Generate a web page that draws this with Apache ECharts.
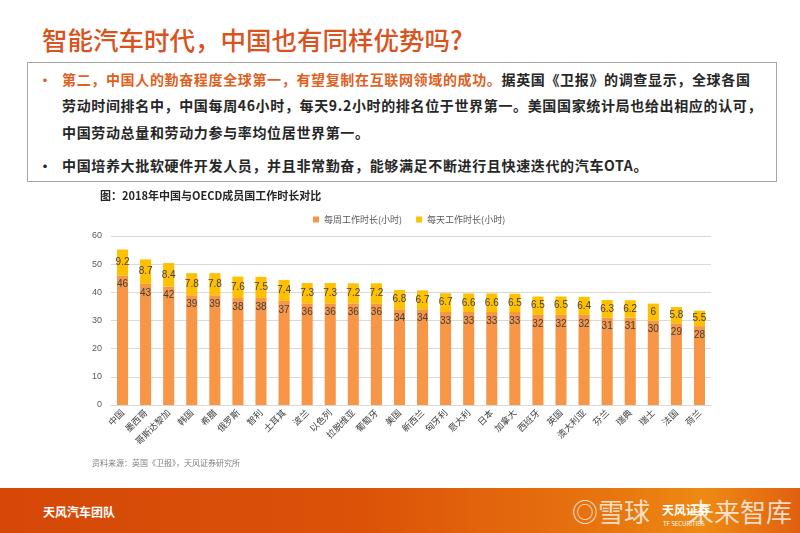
<!DOCTYPE html>
<html><head><meta charset="utf-8">
<script src="https://cdn.jsdelivr.net/npm/echarts@6/dist/echarts.min.js"></script>
<style>
html,body{margin:0;padding:0;width:800px;height:533px;overflow:hidden;background:#fff;font-family:"Noto Sans CJK SC","Noto Sans",sans-serif;}
#title{position:absolute;left:42px;top:20px;font-size:25.5px;color:#D9531E;font-weight:500;white-space:nowrap;}
#box{position:absolute;left:27px;top:62px;width:750px;height:120px;border:1px solid #A6A6A6;box-sizing:border-box;}
.ln{position:absolute;font-size:14px;font-weight:bold;color:#262626;white-space:nowrap;letter-spacing:0.65px;}
.bul{position:absolute;font-size:14px;font-weight:bold;}
#chart{position:absolute;left:0;top:0;width:800px;height:533px;}
#src{position:absolute;left:92px;top:457px;font-size:8px;color:#7F7F7F;white-space:nowrap;}
#foot{position:absolute;left:0;top:488px;width:800px;height:45px;background:linear-gradient(90deg,#D54808 0%,#DC5208 45%,#E87810 78%,#EE8A14 88%,#E06010 100%);}
#foot .t{position:absolute;left:43px;top:15px;font-size:12px;color:#fff;font-weight:bold;}
.wm{position:absolute;color:rgba(255,255,255,0.75);font-size:26px;white-space:nowrap;}
</style></head><body>
<div id="title">智能汽车时代，中国也有同样优势吗?</div>
<div id="box"></div>
<div class="bul" style="left:38px;top:69px;color:#E0601E;">•</div>
<div class="ln" style="left:62px;top:69px;"><span style="color:#E0601E;">第二，中国人的勤奋程度全球第一，有望复制在互联网领域的成功。</span>据英国《卫报》的调查显示，全球各国</div>
<div class="ln" style="left:62px;top:95px;">劳动时间排名中，中国每周46小时，每天9.2小时的排名位于世界第一。美国国家统计局也给出相应的认可，</div>
<div class="ln" style="left:62px;top:122px;">中国劳动总量和劳动力参与率均位居世界第一。</div>
<div class="bul" style="left:38px;top:155px;color:#262626;">•</div>
<div class="ln" style="left:62px;top:155px;">中国培养大批软硬件开发人员，并且非常勤奋，能够满足不断进行且快速迭代的汽车OTA。</div>
<div id="chart"></div>
<div id="src">资料来源：英国《卫报》，天风证券研究所</div>
<div id="foot">
  <div class="t">天风汽车团队</div>
  <div class="wm" style="left:572px;top:4px;">◎雪球</div>
  <div class="wm" style="left:688px;top:4px;">未来智库</div>
  <div style="position:absolute;left:662px;top:13px;font-size:12px;font-weight:bold;color:#fff;">天风证券</div>
  <div style="position:absolute;left:663px;top:31px;font-size:6px;color:#fff;">TF SECURITIES</div>
</div>
<script>
var categories=["中国","墨西哥","哥斯达黎加","韩国","希腊","俄罗斯","智利","土耳其","波兰","以色列","拉脱维亚","葡萄牙","美国","新西兰","匈牙利","意大利","日本","加拿大","西班牙","英国","澳大利亚","芬兰","瑞典","瑞士","法国","荷兰"];
var weekly=[46,43,42,39,39,38,38,37,36,36,36,36,34,34,33,33,33,33,32,32,32,31,31,30,29,28];
var daily=[9.2,8.7,8.4,7.8,7.8,7.6,7.5,7.4,7.3,7.3,7.2,7.2,6.8,6.7,6.7,6.6,6.6,6.5,6.5,6.5,6.4,6.3,6.2,6,5.8,5.5];
var yTicks={min:0,max:60,interval:10};
var chart=echarts.init(document.getElementById('chart'));
var lbl={show:true,color:'#404040',fontSize:10,fontFamily:'Liberation Sans, Arial, sans-serif'};
chart.setOption({
  animation:false,
  textStyle:{fontFamily:'Noto Sans CJK SC'},
  title:{text:'图：2018年中国与OECD成员国工作时长对比',left:95,top:185,textStyle:{fontSize:11,fontWeight:'bold',color:'#262626'}},
  legend:{left:308,top:210,itemWidth:6,itemHeight:6,itemGap:14,icon:'rect',textStyle:{fontSize:9,color:'#595959'},data:['每周工作时长(小时)','每天工作时长(小时)']},
  grid:{left:111,right:89,top:236,bottom:128,containLabel:false},
  xAxis:{type:'category',data:categories,axisLine:{lineStyle:{color:'#D9D9D9'}},axisTick:{show:false},
    axisLabel:{rotate:45,fontSize:9,color:'#404040',interval:0,margin:6}},
  yAxis:{type:'value',min:yTicks.min,max:yTicks.max,interval:yTicks.interval,axisLine:{show:false},axisTick:{show:false},
    splitLine:{lineStyle:{color:'#D9D9D9'}},axisLabel:{fontSize:9,color:'#595959',margin:9,fontFamily:'Liberation Sans, Arial, sans-serif'}},
  series:[
    {name:'每周工作时长(小时)',type:'bar',stack:'a',data:weekly,barWidth:'48%',itemStyle:{color:'#F79646'},
      label:Object.assign({position:'insideTop',distance:4},lbl)},
    {name:'每天工作时长(小时)',type:'bar',stack:'a',data:daily,barWidth:'48%',itemStyle:{color:'#FFC000'},
      label:Object.assign({position:'inside'},lbl)}
  ]
});
</script>
</body></html>
